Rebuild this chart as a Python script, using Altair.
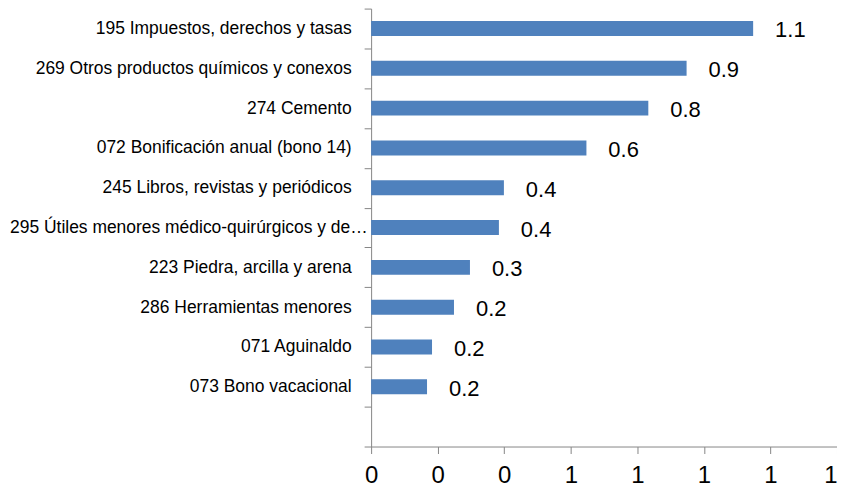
import altair as alt
import pandas as pd

categories = [
    "195 Impuestos, derechos y tasas",
    "269 Otros productos químicos y conexos",
    "274 Cemento",
    "072 Bonificación anual (bono 14)",
    "245 Libros, revistas y periódicos",
    "295 Útiles menores médico-quirúrgicos y de…",
    "223 Piedra, arcilla y arena",
    "286 Herramientas menores",
    "071 Aguinaldo",
    "073 Bono vacacional",
]
values = [1.148, 0.948, 0.833, 0.647, 0.399, 0.384, 0.297, 0.249, 0.183, 0.168]
x_ticks = [0, 0.2, 0.4, 0.6, 0.8, 1.0, 1.2, 1.4]

df = pd.DataFrame({"cat": categories, "val": values})
domain = categories + [" "]

FONT = "Liberation Sans"

y = alt.Y("cat:N", sort=domain,
          scale=alt.Scale(domain=domain, paddingInner=0, paddingOuter=0),
          axis=alt.Axis(title=None, tickBand="extent", labelFontSize=17.5, labelFont=FONT,
                        labelColor="black", tickSize=7,
                        labelPadding={"condition": {"test": "indexof(datum.label, 'Útiles') >= 0",
                                                    "value": -3},
                                      "value": 13},
                        domainColor="#868686", tickColor="#868686", labelLimit=400))
x = alt.X("val:Q", scale=alt.Scale(domain=[0, 1.4], nice=False),
          axis=alt.Axis(title=None, values=x_ticks, format=".0f", labelFontSize=24,
                        labelFont=FONT, labelColor="black", tickSize=7, labelPadding=10,
                        labelAlign={"condition": {"test": "datum.value > 1.39", "value": "right"},
                                    "value": "center"},
                        domainColor="#868686", tickColor="#868686", grid=False,
                        labelFlush=False))

bars = alt.Chart(df).mark_bar(color="#4F81BD", size=15).encode(x=x, y=y)
labels = alt.Chart(df).mark_text(align="left", baseline="middle", dx=22, dy=2,
                                 fontSize=22, font=FONT, color="black").encode(
    x="val:Q", y=alt.Y("cat:N", sort=domain),
    text=alt.Text("val:Q", format=".1f"))

chart = (bars + labels).properties(
    width=467, height=439,
    autosize=alt.AutoSizeParams(type="none"),
    padding={"left": 364, "top": 0, "right": 0, "bottom": 45},
).configure_view(stroke=None)

chart.save("out.html", embed_options={"renderer": "svg", "actions": False})
